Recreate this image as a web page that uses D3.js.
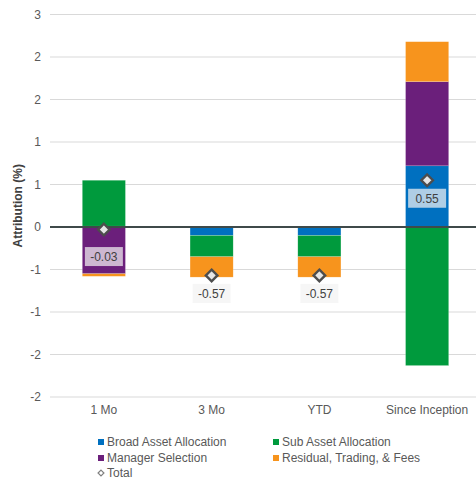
<!DOCTYPE html>
<html><head><meta charset="utf-8">
<script src="https://cdn.jsdelivr.net/npm/d3@7"></script>
<style>body{margin:0;background:#fff;}svg{display:block;font-family:"Liberation Sans",Arial,sans-serif;}</style>
</head><body>
<svg id="chart" width="476" height="481"></svg>
<script>
const categories = ["1 Mo", "3 Mo", "YTD", "Since Inception"];
const seriesNames = ["Broad Asset Allocation", "Sub Asset Allocation", "Manager Selection", "Residual, Trading, & Fees"];
const broadAsset = [0.01, -0.10, -0.10, 0.72];
const subAsset = [0.54, -0.25, -0.25, -1.63];
const managerSel = [-0.55, 0.00, 0.00, 0.99];
const residual = [-0.03, -0.24, -0.24, 0.47];
const totals = [-0.03, -0.57, -0.57, 0.55];
const yTicks = [2.5, 2, 1.5, 1, 0.5, 0, -0.5, -1, -1.5, -2];
const yTickLabels = ["3", "2", "2", "1", "1", "0", "-1", "-1", "-2", "-2"];
const colors = ["#0070c0", "#009a3d", "#6b1f7b", "#f7941d"];

const svg = d3.select("#chart");
const x = d3.scaleBand().domain(categories).range([50, 481]).paddingInner(0.6).paddingOuter(0.3);
const y = d3.scaleLinear().domain([-2, 2.5]).range([397, 14.5]);

// gridlines
svg.append("g").selectAll("line").data(yTicks.filter(d => d !== 0)).join("line")
  .attr("x1", 50).attr("x2", 476).attr("y1", d => y(d)).attr("y2", d => y(d))
  .attr("stroke", "#d9d9d9").attr("stroke-width", 1);

// y labels
svg.append("g").selectAll("text").data(yTicks).join("text")
  .attr("x", 41).attr("y", d => y(d)).attr("dy", "0.35em")
  .attr("text-anchor", "end").attr("font-size", 12).attr("fill", "#595959")
  .text((d, i) => yTickLabels[i]);

svg.append("text")
  .attr("transform", `translate(22,${(y(2.5) + y(-2)) / 2}) rotate(-90)`)
  .attr("text-anchor", "middle").attr("font-size", 12).attr("font-weight", "bold").attr("fill", "#404040")
  .text("Attribution (%)");

// stacked bars
const rows = categories.map((c, i) => ({
  cat: c, s0: broadAsset[i], s1: subAsset[i], s2: managerSel[i], s3: residual[i]
}));
const stack = d3.stack().keys(["s0", "s1", "s2", "s3"]).offset(d3.stackOffsetDiverging);
const layers = stack(rows);
svg.append("g").selectAll("g").data(layers).join("g")
  .attr("fill", (d, i) => colors[i])
  .selectAll("rect").data(d => d).join("rect")
  .attr("x", d => x(d.data.cat)).attr("width", x.bandwidth())
  .attr("y", d => y(Math.max(d[0], d[1])))
  .attr("height", d => Math.abs(y(d[0]) - y(d[1])))
  .attr("stroke", "#ffffff").attr("stroke-opacity", 0.35).attr("stroke-width", 0.5);

// zero line
svg.append("line").attr("x1", 50).attr("x2", 476).attr("y1", y(0)).attr("y2", y(0))
  .attr("stroke", "#3f4a4a").attr("stroke-width", 2);

// x labels
svg.append("g").selectAll("text").data(categories).join("text")
  .attr("x", d => x(d) + x.bandwidth() / 2).attr("y", 414)
  .attr("text-anchor", "middle").attr("font-size", 12).attr("fill", "#595959")
  .text(d => d);

// totals diamonds + labels
const diamond = d3.symbol().type(d3.symbolDiamond2).size(85);
const tg = svg.append("g");
categories.forEach((c, i) => {
  const cx = x(c) + x.bandwidth() / 2;
  const cy = y(totals[i]);
  tg.append("path").attr("d", diamond()).attr("transform", `translate(${cx},${cy})`)
    .attr("fill", "#e6e6e6").attr("stroke", "#4d4d4d").attr("stroke-width", 2.4);
  const off = i === 0 ? 27 : 18;
  const txt = totals[i].toFixed(2);
  tg.append("rect").attr("x", cx - 19).attr("y", cy + off - 9.5).attr("width", 38).attr("height", 19)
    .attr("fill", "rgb(242,242,242)").attr("fill-opacity", 0.72);
  tg.append("text").attr("x", cx).attr("y", cy + off).attr("dy", "0.36em")
    .attr("text-anchor", "middle").attr("font-size", 12).attr("fill", "#404040").text(txt);
});

// legend
const legendItems = [
  {name: seriesNames[0], color: colors[0], lx: 98, ly: 442},
  {name: seriesNames[1], color: colors[1], lx: 273, ly: 442},
  {name: seriesNames[2], color: colors[2], lx: 98, ly: 458},
  {name: seriesNames[3], color: colors[3], lx: 273, ly: 458}
];
const lg = svg.append("g");
legendItems.forEach(it => {
  lg.append("rect").attr("x", it.lx).attr("y", it.ly - 3).attr("width", 6).attr("height", 6).attr("fill", it.color);
  lg.append("text").attr("x", it.lx + 9).attr("y", it.ly).attr("dy", "0.35em")
    .attr("font-size", 12).attr("fill", "#595959").text(it.name);
});
lg.append("path").attr("d", d3.symbol().type(d3.symbolDiamond2).size(22)())
  .attr("transform", "translate(101,473)").attr("fill", "#fff").attr("stroke", "#7f7f7f").attr("stroke-width", 1.2);
lg.append("text").attr("x", 107).attr("y", 473).attr("dy", "0.35em")
  .attr("font-size", 12).attr("fill", "#595959").text("Total");
</script>
</body></html>
